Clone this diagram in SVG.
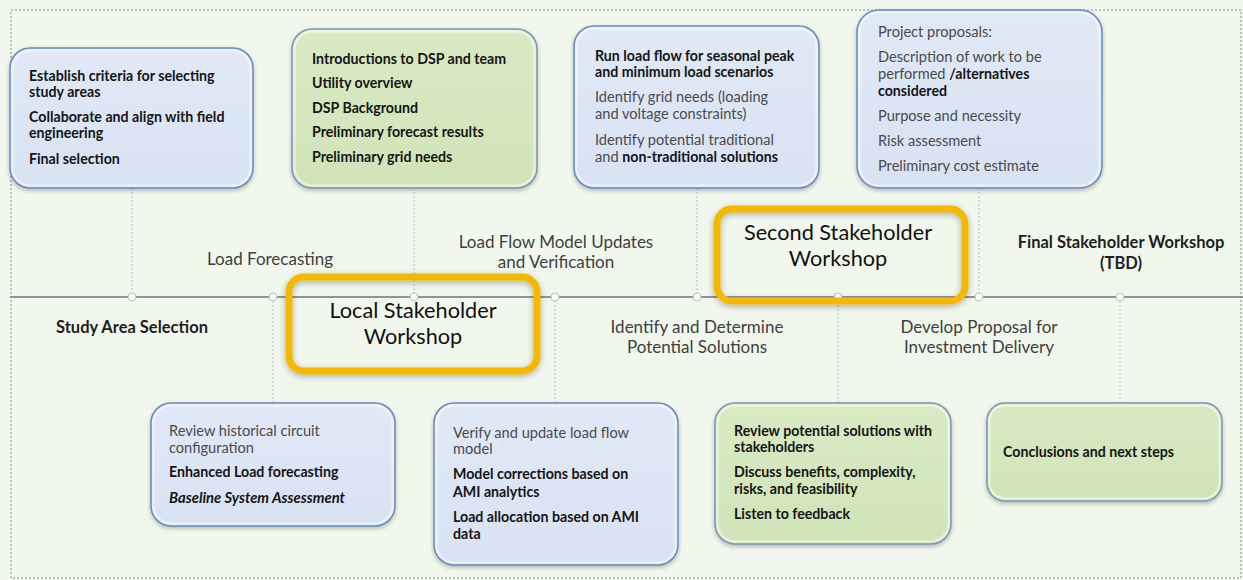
<svg xmlns="http://www.w3.org/2000/svg" width="1243" height="580" viewBox="0 0 1243 580">
  <defs>
    <linearGradient id="gBlue" x1="0" y1="0" x2="0" y2="1">
      <stop offset="0" stop-color="#e1e9f7"/>
      <stop offset="1" stop-color="#d8e2f3"/>
    </linearGradient>
    <linearGradient id="gGreen" x1="0" y1="0" x2="0" y2="1">
      <stop offset="0" stop-color="#d9eac4"/>
      <stop offset="1" stop-color="#d0e4b8"/>
    </linearGradient>
    <filter id="soft" x="-10%" y="-10%" width="120%" height="130%">
      <feGaussianBlur in="SourceAlpha" stdDeviation="2"/>
      <feOffset dy="1.5"/>
      <feComponentTransfer><feFuncA type="linear" slope="0.25"/></feComponentTransfer>
      <feMerge><feMergeNode/><feMergeNode in="SourceGraphic"/></feMerge>
    </filter>
    <filter id="glow" x="-10%" y="-15%" width="120%" height="130%">
      <feGaussianBlur in="SourceAlpha" stdDeviation="3"/>
      <feOffset dy="2"/>
      <feComponentTransfer><feFuncA type="linear" slope="0.3"/></feComponentTransfer>
      <feMerge><feMergeNode/><feMergeNode in="SourceGraphic"/></feMerge>
    </filter>
  </defs>
  <style>
    .box { stroke: #6689c0; stroke-width: 1.5; filter: url(#soft); }
    .blue { fill: url(#gBlue); }
    .green { fill: url(#gGreen); stroke: #7895bd; }
    .inner { fill: none; stroke: #ffffff; stroke-opacity: 0.55; stroke-width: 2; }
    .b { font-family: Lato, "Liberation Sans", sans-serif; font-size: 14.2px; font-weight: bold; fill: #151515; }
    .r { font-family: Lato, "Liberation Sans", sans-serif; font-size: 14.6px; fill: #4a4a4a; }
    .bi { font-family: Lato, "Liberation Sans", sans-serif; font-size: 14.8px; font-weight: bold; font-style: italic; fill: #151515; }
    .phase { font-family: Lato, "Liberation Sans", sans-serif; font-size: 17px; fill: #3f3f3f; text-anchor: middle; }
    .phaseb { font-family: Lato, "Liberation Sans", sans-serif; font-size: 16.5px; font-weight: bold; fill: #1e1e1e; text-anchor: middle; }
    .ms { font-family: Lato, "Liberation Sans", sans-serif; font-size: 21.7px; fill: #111; text-anchor: middle; }
    .msbox { fill: none; stroke: #f5b800; stroke-width: 7; filter: url(#glow); }
    .tick { stroke: #9dc3e6; stroke-width: 1; stroke-dasharray: 2 2; fill: none; }
    .dot { fill: #ffffff; stroke: #b9c0c4; stroke-width: 1; }
  </style>

  <!-- canvas -->
  <rect x="0" y="0" width="1243" height="580" fill="#f1f7ec"/>
  <rect x="11" y="10" width="1230" height="568" fill="none" stroke="#a7b0a8" stroke-width="1.5" stroke-dasharray="2 2"/>

  <!-- timeline, drop lines and markers -->
  <g id="connectors">
    <line x1="10" y1="297" x2="1243" y2="297" stroke="#8c9496" stroke-width="2"/>
    <line class="tick" x1="132" y1="188" x2="132" y2="297"/>
    <line class="tick" x1="273" y1="297" x2="273" y2="403"/>
    <line class="tick" x1="414" y1="188" x2="414" y2="297"/>
    <line class="tick" x1="555" y1="297" x2="555" y2="403"/>
    <line class="tick" x1="697" y1="188" x2="697" y2="297"/>
    <line class="tick" x1="838" y1="297" x2="838" y2="403"/>
    <line class="tick" x1="979" y1="188" x2="979" y2="297"/>
    <line class="tick" x1="1120" y1="297" x2="1120" y2="403"/>
    <circle class="dot" cx="132" cy="297" r="4"/>
    <circle class="dot" cx="273" cy="297" r="4"/>
    <circle class="dot" cx="414" cy="297" r="4"/>
    <circle class="dot" cx="555" cy="297" r="4"/>
    <circle class="dot" cx="697" cy="297" r="4"/>
    <circle class="dot" cx="838" cy="297" r="4"/>
    <circle class="dot" cx="979" cy="297" r="4"/>
    <circle class="dot" cx="1120" cy="297" r="4"/>
  </g>

  <!-- phase labels along the timeline -->
  <g id="phases">
    <text class="phaseb" x="132" y="333">Study Area Selection</text>
    <text class="phase" x="270" y="265">Load Forecasting</text>
    <text class="phase" x="556" y="248">Load Flow Model Updates</text>
    <text class="phase" x="556" y="268">and Verification</text>
    <text class="phase" x="697" y="333">Identify and Determine</text>
    <text class="phase" x="697" y="353">Potential Solutions</text>
    <text class="phase" x="979" y="333">Develop Proposal for</text>
    <text class="phase" x="979" y="353">Investment Delivery</text>
    <text class="phaseb" x="1121" y="248">Final Stakeholder Workshop</text>
    <text class="phaseb" x="1121" y="269">(TBD)</text>
  </g>

  <!-- workshop milestones -->
  <g id="local-workshop">
    <rect class="msbox" x="289" y="277" width="248" height="94" rx="15"/>
    <text class="ms" x="413" y="318">Local Stakeholder</text>
    <text class="ms" x="413" y="344">Workshop</text>
  </g>
  <g id="second-workshop">
    <rect class="msbox" x="717" y="209" width="248" height="92" rx="15"/>
    <text class="ms" x="838" y="240">Second Stakeholder</text>
    <text class="ms" x="838" y="266">Workshop</text>
  </g>

  <!-- upper activity boxes -->
  <g id="study-area">
    <rect class="box blue" x="10" y="48" width="243" height="140" rx="20"/>
    <rect class="inner" x="12.5" y="50.5" width="238" height="135" rx="18"/>
    <text class="b" x="29" y="81">Establish criteria for selecting</text>
    <text class="b" x="29" y="97">study areas</text>
    <text class="b" x="29" y="122">Collaborate and align with field</text>
    <text class="b" x="29" y="138">engineering</text>
    <text class="b" x="29" y="164">Final selection</text>
  </g>

  <g id="local-agenda">
    <rect class="box green" x="292" y="29" width="245" height="159" rx="20"/>
    <rect class="inner" x="294.5" y="31.5" width="240" height="154" rx="18"/>
    <text class="b" x="312" y="64">Introductions to DSP and team</text>
    <text class="b" x="312" y="88">Utility overview</text>
    <text class="b" x="312" y="113">DSP Background</text>
    <text class="b" x="312" y="137">Preliminary forecast results</text>
    <text class="b" x="312" y="162">Preliminary grid needs</text>
  </g>

  <g id="load-flow-runs">
    <rect class="box blue" x="574" y="26" width="245" height="162" rx="20"/>
    <rect class="inner" x="576.5" y="28.5" width="240" height="157" rx="18"/>
    <text class="b" x="595" y="61">Run load flow for seasonal peak</text>
    <text class="b" x="595" y="77">and minimum load scenarios</text>
    <text class="r" x="595" y="102">Identify grid needs (loading</text>
    <text class="r" x="595" y="119">and voltage constraints)</text>
    <text class="r" x="595" y="145">Identify potential traditional</text>
    <text class="r" x="595" y="162">and <tspan class="b">non-traditional solutions</tspan></text>
  </g>

  <g id="project-proposals">
    <rect class="box blue" x="857" y="10" width="245" height="178" rx="22"/>
    <rect class="inner" x="859.5" y="12.5" width="240" height="173" rx="20"/>
    <text class="r" x="878" y="37">Project proposals:</text>
    <text class="r" x="878" y="62">Description of work to be</text>
    <text class="r" x="878" y="79">performed <tspan class="b">/alternatives</tspan></text>
    <text class="b" x="878" y="96">considered</text>
    <text class="r" x="878" y="121">Purpose and necessity</text>
    <text class="r" x="878" y="146">Risk assessment</text>
    <text class="r" x="878" y="171">Preliminary cost estimate</text>
  </g>

  <!-- lower activity boxes -->
  <g id="forecast-review">
    <rect class="box blue" x="151" y="403" width="244" height="123" rx="20"/>
    <rect class="inner" x="153.5" y="405.5" width="239" height="118" rx="18"/>
    <text class="r" x="169" y="436">Review historical circuit</text>
    <text class="r" x="169" y="453">configuration</text>
    <text class="b" x="169" y="477">Enhanced Load forecasting</text>
    <text class="bi" x="169" y="503">Baseline System Assessment</text>
  </g>

  <g id="model-verification">
    <rect class="box blue" x="434" y="403" width="244" height="162" rx="20"/>
    <rect class="inner" x="436.5" y="405.5" width="239" height="157" rx="18"/>
    <text class="r" x="453" y="438">Verify and update load flow</text>
    <text class="r" x="453" y="454">model</text>
    <text class="b" x="453" y="479">Model corrections based on</text>
    <text class="b" x="453" y="497">AMI analytics</text>
    <text class="b" x="453" y="522">Load allocation based on AMI</text>
    <text class="b" x="453" y="539">data</text>
  </g>

  <g id="second-agenda">
    <rect class="box green" x="715" y="403" width="236" height="141" rx="20"/>
    <rect class="inner" x="717.5" y="405.5" width="231" height="136" rx="18"/>
    <text class="b" x="734" y="436">Review potential solutions with</text>
    <text class="b" x="734" y="452">stakeholders</text>
    <text class="b" x="734" y="477">Discuss benefits, complexity,</text>
    <text class="b" x="734" y="494">risks, and feasibility</text>
    <text class="b" x="734" y="519">Listen to feedback</text>
  </g>

  <g id="final-agenda">
    <rect class="box green" x="987" y="403" width="235" height="98" rx="18"/>
    <rect class="inner" x="989.5" y="405.5" width="230" height="93" rx="16"/>
    <text class="b" x="1003" y="457">Conclusions and next steps</text>
  </g>
</svg>
